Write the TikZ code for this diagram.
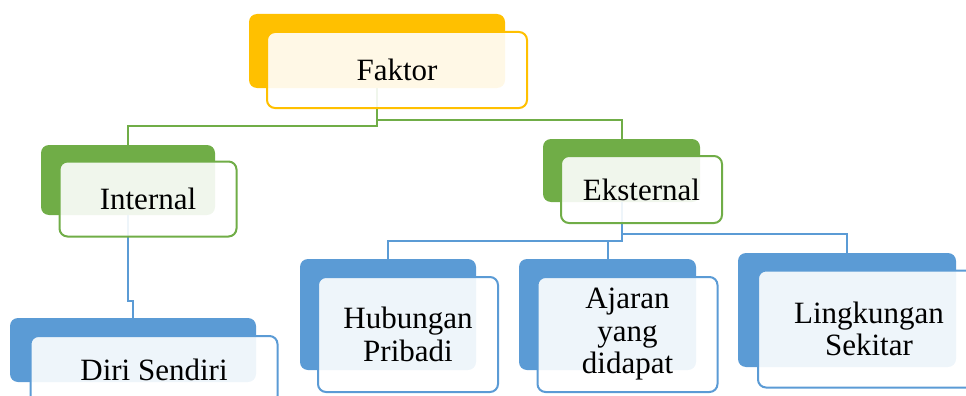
\documentclass[tikz,border=0pt]{standalone}
\usepackage{fontspec}
\setmainfont{Liberation Serif}
\usepackage{xcolor}
\usepackage{tikz}
\definecolor{faktorgold}{HTML}{FFC000}
\definecolor{leafgreen}{HTML}{70AD47}
\definecolor{skyblue}{HTML}{5B9BD5}

\begin{document}
\begin{tikzpicture}[x=1pt, y=-1pt,
    back/.style={rectangle, rounded corners=8pt, fill=#1, inner sep=0pt},
    front/.style={rectangle, rounded corners=8pt, draw=#1, line width=2pt, fill=white, fill opacity=0.9, text opacity=1, inner sep=0pt, align=center, font=\fontsize{31}{32.5}\selectfont},
    link/.style={draw=#1, line width=2pt}]
    \clip (0,0) rectangle (966,396);

    % back shapes
    \node [back=faktorgold, minimum width=256pt, minimum height=74pt] (faktorB) at (377,51) {};
    \node [back=leafgreen, minimum width=174pt, minimum height=70pt] (internB) at (128,180) {};
    \node [back=leafgreen, minimum width=157pt, minimum height=63pt] (eksternB) at (621.5,170.5) {};
    \node [back=skyblue, minimum width=246pt, minimum height=64pt] (diriB) at (133,350) {};
    \node [back=skyblue, minimum width=176pt, minimum height=111pt] (hubB) at (388,314.5) {};
    \node [back=skyblue, minimum width=177pt, minimum height=111pt] (ajaranB) at (607.5,314.5) {};
    \node [back=skyblue, minimum width=218pt, minimum height=114pt] (lingB) at (847,310) {};

    % connectors
    \draw [link=leafgreen] (faktorB.south) -- ++(0,38) -| (internB.north);
    \draw [link=leafgreen] (faktorB.south) -- ++(0,32) -| (eksternB.north);
    \draw [link=skyblue] (internB.south) -- ++(0,86) -| (diriB.north);
    \draw [link=skyblue] (eksternB.south) -- ++(0,39) -| (hubB.north);
    \draw [link=skyblue] (eksternB.south) -- ++(0,39) -| (ajaranB.north);
    \draw [link=skyblue] (eksternB.south) -- ++(0,32) -| (lingB.north);

    % front shapes with text
    \node [front=faktorgold, minimum width=260pt, minimum height=76pt] (faktor) at ([shift={(20,19)}]faktorB) {Faktor};
    \node [front=leafgreen, minimum width=177pt, minimum height=75pt] (intern) at ([shift={(20,19)}]internB) {Internal};
    \node [front=leafgreen, minimum width=161pt, minimum height=67pt] (ekstern) at ([shift={(20,19)}]eksternB) {Eksternal};
    \node [front=skyblue, minimum width=247pt, minimum height=68pt] (diri) at ([shift={(21,20)}]diriB) {Diri Sendiri};
    \node [front=skyblue, minimum width=180pt, minimum height=115pt] (hub) at ([shift={(20,20)}]hubB) {Hubungan\\Pribadi};
    \node [front=skyblue, minimum width=180pt, minimum height=115pt] (ajaran) at ([shift={(20,20)}]ajaranB) {Ajaran\\yang\\didapat};
    \node [front=skyblue, minimum width=222pt, minimum height=117pt] (ling) at ([shift={(22,19)}]lingB) {Lingkungan\\Sekitar};
\end{tikzpicture}
\end{document}
